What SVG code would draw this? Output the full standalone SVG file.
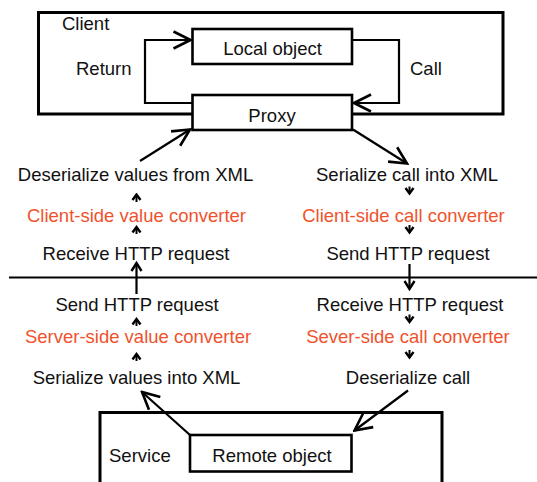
<svg xmlns="http://www.w3.org/2000/svg" width="537" height="482" viewBox="0 0 537 482">
  <style>
    .box { fill: #fff; stroke: #000; stroke-width: 3; }
    .inner { fill: #fff; stroke: #000; stroke-width: 2.6; }
    .txt { font-family: "Liberation Sans", Arial, sans-serif; font-size: 18.5px; fill: #111; }
    .red { fill: #f0522c; }
    .mid { text-anchor: middle; }
    .wire { fill: none; stroke: #000; stroke-width: 2.2; }
    .big { marker-end: url(#head); }
    .small { fill: none; stroke: #000; stroke-width: 2; marker-end: url(#tip); }
    .cross { fill: none; stroke: #000; stroke-width: 2.2; marker-end: url(#mid); }
  </style>
  <defs>
    <marker id="head" markerUnits="userSpaceOnUse" viewBox="-20 -10 22 20" refX="0" refY="0" markerWidth="22" markerHeight="20" orient="auto">
      <path d="M-17,-8.5 L0,0 L-17,8.5" fill="none" stroke="#000" stroke-width="2.6"/>
    </marker>
    <marker id="mid" markerUnits="userSpaceOnUse" viewBox="-12 -8 14 16" refX="0" refY="0" markerWidth="14" markerHeight="16" orient="auto">
      <path d="M-8,-5 L0,0 L-8,5" fill="none" stroke="#000" stroke-width="2.4"/>
    </marker>
    <marker id="tip" markerUnits="userSpaceOnUse" viewBox="-8 -6 10 12" refX="0" refY="0" markerWidth="10" markerHeight="12" orient="auto">
      <path d="M-5.5,-4 L0,0 L-5.5,4" fill="none" stroke="#000" stroke-width="2.4"/>
    </marker>
  </defs>

  <!-- client container -->
  <g id="client">
    <rect class="box" x="38.5" y="12.5" width="464.5" height="101.5"/>
    <text class="txt" x="62" y="30">Client</text>
  </g>

  <!-- service container (runs past the lower edge) -->
  <g id="service">
    <rect class="box" x="100" y="412.5" width="342" height="90"/>
    <text class="txt" x="109" y="462">Service</text>
  </g>

  <!-- tier separator -->
  <line x1="9" y1="277.5" x2="537" y2="277.5" stroke="#000" stroke-width="2"/>

  <g id="connectors">
    <!-- Return: proxy back to local object -->
    <path class="wire big" d="M192.5,103 H145 V40 H190.5"/>
    <!-- Call: local object to proxy -->
    <path class="wire big" d="M352,40 H399 V103 H354"/>
    <!-- proxy to/from the client pipeline -->
    <line class="wire big" x1="140" y1="161" x2="190" y2="129.5"/>
    <line class="wire big" x1="353" y1="129.5" x2="407" y2="163.5"/>
    <!-- remote object to/from the server pipeline -->
    <line class="wire big" x1="190" y1="435" x2="142" y2="392"/>
    <line class="wire big" x1="408" y1="390.5" x2="354.5" y2="430.5"/>
    <!-- across the network -->
    <line class="cross" x1="136.5" y1="294" x2="136.5" y2="263"/>
    <line class="cross" x1="409.5" y1="264" x2="409.5" y2="289"/>
    <!-- short steps inside each pipeline -->
    <line class="small" x1="136.5" y1="202" x2="136.5" y2="194.5"/>
    <line class="small" x1="136.5" y1="234" x2="136.5" y2="227"/>
    <line class="small" x1="136.5" y1="326" x2="136.5" y2="319"/>
    <line class="small" x1="136.5" y1="361" x2="136.5" y2="354"/>
    <line class="small" x1="409.5" y1="186.5" x2="409.5" y2="193.5"/>
    <line class="small" x1="409.5" y1="225" x2="409.5" y2="232.5"/>
    <line class="small" x1="409.5" y1="314.5" x2="409.5" y2="322"/>
    <line class="small" x1="409.5" y1="350" x2="409.5" y2="357.5"/>
  </g>

  <g id="local-object">
    <rect class="inner" x="192.5" y="29" width="159.5" height="35"/>
    <text class="txt mid" x="272.5" y="55">Local object</text>
  </g>
  <g id="proxy">
    <rect class="inner" x="192.5" y="95" width="159.5" height="35"/>
    <text class="txt mid" x="272" y="121.5">Proxy</text>
  </g>
  <g id="remote-object">
    <rect class="inner" x="190" y="435" width="161.5" height="36.5"/>
    <text class="txt mid" x="272" y="462">Remote object</text>
  </g>

  <g id="return-label"><text class="txt" x="76" y="75">Return</text></g>
  <g id="call-label"><text class="txt" x="410" y="75">Call</text></g>

  <!-- client side, response path -->
  <g id="deserialize-values"><text class="txt mid" x="135.5" y="181">Deserialize values from XML</text></g>
  <g id="client-value-converter"><text class="txt red mid" x="136.5" y="222">Client-side value converter</text></g>
  <g id="client-receive"><text class="txt mid" x="136" y="259.5">Receive HTTP request</text></g>

  <!-- client side, request path -->
  <g id="serialize-call"><text class="txt mid" x="407" y="181">Serialize call into XML</text></g>
  <g id="client-call-converter"><text class="txt red mid" x="403.5" y="222">Client-side call converter</text></g>
  <g id="client-send"><text class="txt mid" x="408" y="259.5">Send HTTP request</text></g>

  <!-- server side, response path -->
  <g id="server-send"><text class="txt mid" x="137" y="311">Send HTTP request</text></g>
  <g id="server-value-converter"><text class="txt red mid" x="138" y="342.5">Server-side value converter</text></g>
  <g id="serialize-values"><text class="txt mid" x="136.5" y="383.5">Serialize values into XML</text></g>

  <!-- server side, request path -->
  <g id="server-receive"><text class="txt mid" x="410" y="311">Receive HTTP request</text></g>
  <g id="server-call-converter"><text class="txt red mid" x="408" y="342.5">Sever-side call converter</text></g>
  <g id="deserialize-call"><text class="txt mid" x="408" y="383.5">Deserialize call</text></g>
</svg>
